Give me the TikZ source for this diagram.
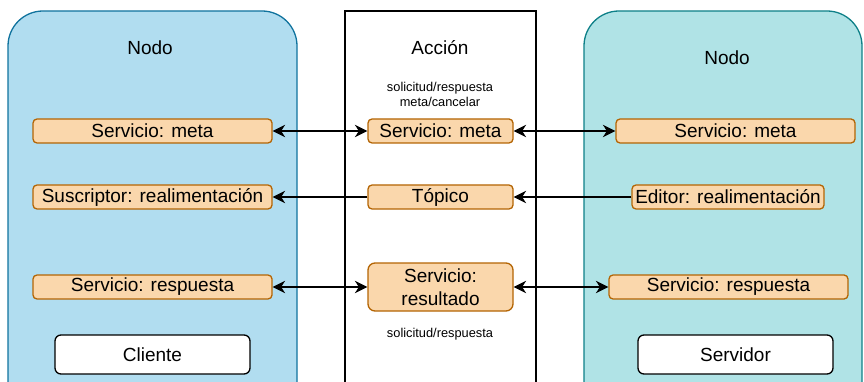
\documentclass[tikz,border=0pt]{standalone}
\usepackage{fontspec}
\setmainfont{Liberation Sans}
\usetikzlibrary{arrows.meta}
\definecolor{cliblue}{HTML}{B1DDF0}
\definecolor{cliblueline}{HTML}{10739E}
\definecolor{srvteal}{HTML}{B0E3E6}
\definecolor{srvtealline}{HTML}{0E8088}
\definecolor{orfill}{HTML}{FAD7AC}
\definecolor{orline}{HTML}{B46504}
\tikzset{
  container/.style={draw, line width=1.3pt, rounded corners=35pt, inner sep=0pt},
  portbox/.style={draw=orline, fill=orfill, line width=1.3pt, rounded corners=4pt,
    minimum height=24pt, inner sep=0pt, align=center,
    font=\fontsize{19}{22.5}\selectfont},
  rolebox/.style={draw=black, fill=white, line width=1.3pt, rounded corners=6pt,
    minimum width=195pt, minimum height=39pt, inner sep=0pt,
    font=\fontsize{19}{22.5}\selectfont},
  titletxt/.style={inner sep=0pt, font=\fontsize{19}{22.5}\selectfont},
  smalltxt/.style={inner sep=0pt, align=center, font=\fontsize{12.8}{15.5}\selectfont},
  tip/.style={Stealth[length=12.5pt,width=12.5pt,inset=4pt]},
  link/.style={line width=1.3pt, -{Stealth[length=12.5pt,width=12.5pt,inset=4pt]}},
  blink/.style={line width=1.3pt, {Stealth[length=12.5pt,width=12.5pt,inset=4pt]}-{Stealth[length=12.5pt,width=12.5pt,inset=4pt]}}
}
\begin{document}
\begin{tikzpicture}[x=1pt,y=-1pt]
\useasboundingbox (0,0) rectangle (864,382);
\clip (0,0) rectangle (864,382);

% containers: client node, action, server node
\node[container, fill=cliblue, draw=cliblueline, minimum width=289pt, minimum height=409pt] (cnode) at (152.5,215.5) {};
\node[draw=black, line width=1.3pt, fill=white, inner sep=0pt, minimum width=191pt, minimum height=409pt] (action) at (440.5,215.5) {};
\node[container, fill=srvteal, draw=srvtealline, minimum width=278pt, minimum height=409pt] (snode) at (723,215.5) {};

% titles
\node[titletxt] (ctitle) at (150,48) {Nodo};
\node[titletxt] (atitle) at (440,48) {Acción};
\node[titletxt] (stitle) at (727,58) {Nodo};
\node[smalltxt] (atop) at (440,94.5) {solicitud/respuesta\\meta/cancelar};
\node[smalltxt] (abot) at (440,334) {solicitud/respuesta};

% client side
\node[portbox, minimum width=239pt] (cgoal) at (152.5,131) {Servicio: meta};
\node[portbox, minimum width=239pt] (csub) at (152.5,197) {Suscriptor: realimentación};
\node[portbox, minimum width=239pt] (cresp) at (152.5,287) {Servicio: respuesta};
\node[rolebox] (client) at (152.5,354.5) {Cliente};

% action
\node[portbox, minimum width=145pt] (agoal) at (440.5,131) {Servicio: meta};
\node[portbox, minimum width=145pt] (atopic) at (440.5,197) {Tópico};
\node[portbox, minimum width=145pt, minimum height=48pt, rounded corners=7pt] (aresult) at (440.5,287) {Servicio:\\resultado};

% server side
\node[portbox, minimum width=239pt] (sgoal) at (735.5,131) {Servicio: meta};
\node[portbox, minimum width=192pt] (spub) at (728,197) {Editor: realimentación};
\node[portbox, minimum width=239pt] (sresp) at (728.5,287) {Servicio: respuesta};
\node[rolebox] (server) at (735.5,354.5) {Servidor};

% connections
\draw[blink] (cgoal.east) -- (agoal.west);
\draw[blink] (agoal.east) -- (sgoal.west);
\draw[link] (atopic.west) -- (csub.east);
\draw[link] (spub.west) -- (atopic.east);
\draw[blink] (cresp.east) -- (aresult.west);
\draw[blink] (aresult.east) -- (sresp.west);
\end{tikzpicture}
\end{document}
